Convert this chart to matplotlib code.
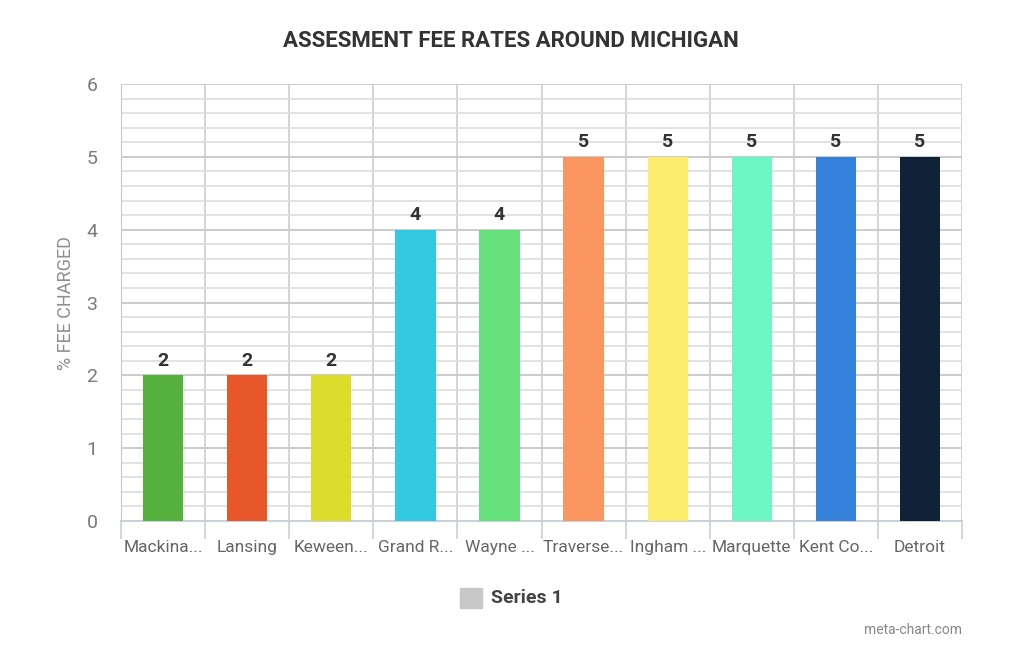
import matplotlib
matplotlib.use("Agg")
import matplotlib.pyplot as plt
from matplotlib.patches import Rectangle

categories = ["Mackina...", "Lansing", "Keween...", "Grand R...", "Wayne ...",
              "Traverse...", "Ingham ...", "Marquette", "Kent Co...", "Detroit"]
values = [2, 2, 2, 4, 4, 5, 5, 5, 5, 5]
colors = ["#55b03e", "#e8572a", "#dcdc2c", "#33c9e0", "#66e07a",
          "#fb9660", "#fcee6c", "#6ef5c4", "#3580d8", "#0f2238"]
yticks = [0, 1, 2, 3, 4, 5, 6]

plt.rcParams['font.family'] = ['Roboto', 'DejaVu Sans']

fig = plt.figure(figsize=(10.24, 6.59), dpi=100)
ax = fig.add_axes([0.1182, 0.2094, 0.8213, 0.6631])

n = len(categories)
x = list(range(n))
ax.bar(x, values, width=0.48, color=colors, zorder=3)
for xi, v in zip(x, values):
    ax.text(xi, v + 0.08, str(v), ha="center", va="bottom", fontsize=14,
            fontweight="bold", color="#333333", zorder=4)

ax.set_xlim(-0.5, n - 0.5)
ax.set_ylim(0, 6)
ax.set_yticks(yticks)
ax.set_yticklabels([str(t) for t in yticks], fontsize=14, color="#7a7a7a")
ax.set_yticks([i * 0.2 for i in range(31)], minor=True)
ax.grid(axis="y", which="both", color="#dddddd", linewidth=1.2, zorder=0)
ax.grid(axis="y", which="major", color="#cccccc", linewidth=1.4, zorder=0)
for b in range(n + 1):
    ax.axvline(b - 0.5, color="#d4d4d4", linewidth=1.4, zorder=1)
ax.tick_params(axis="y", which="both", length=0, pad=17)
ax.set_xticks(x)
ax.set_xticklabels(categories, fontsize=12.5, color="#666666")
ax.set_xticks([b - 0.5 for b in range(n + 1)], minor=True)
ax.tick_params(axis="x", which="major", length=0, pad=14)
ax.tick_params(axis="x", which="minor", length=13, color="#c8d0d8", width=1.2)
for s in ["top", "right"]:
    ax.spines[s].set_visible(False)
ax.spines["left"].set_color("#c8c8c8")
ax.spines["bottom"].set_color("#c8d0d8")
ax.spines["bottom"].set_linewidth(1.4)
ax.set_ylabel("% FEE CHARGED", fontsize=13, color="#8f8f8f", labelpad=8)

fig.text(0.4985, 0.938, "ASSESMENT FEE RATES AROUND MICHIGAN", ha="center", va="center",
         fontsize=16, fontweight="bold", color="#333333")

fig.patches.append(Rectangle((460 / 1024, 1 - 608 / 659), 22 / 1024, 20 / 659,
                             transform=fig.transFigure, color="#c8c8c8"))
fig.text(491 / 1024, 1 - 598 / 659, "Series 1", ha="left", va="center",
         fontsize=14, fontweight="bold", color="#444444")
fig.text(962 / 1024, 1 - 630 / 659, "meta-chart.com", ha="right", va="center",
         fontsize=10, color="#888888")

fig.savefig("out.png", dpi=100, facecolor="white")
